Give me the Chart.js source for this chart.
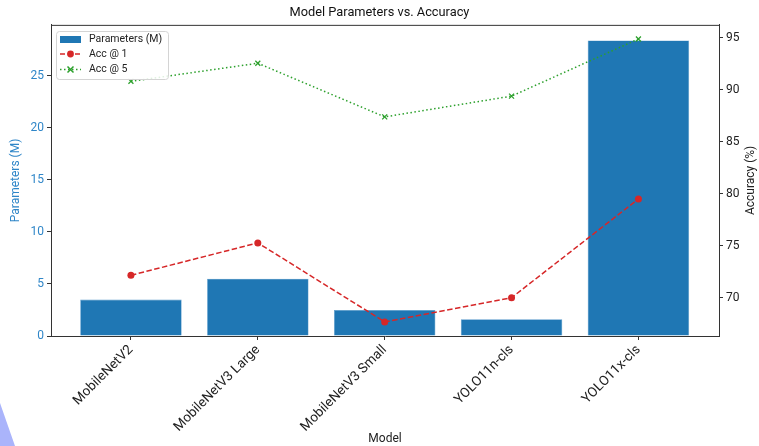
<!DOCTYPE html>
<html>
<head>
<meta charset="utf-8">
<script src="https://cdn.jsdelivr.net/npm/chart.js@4"></script>
<style>
html, body { margin: 0; padding: 0; background: #fff; }
#wrap { position: relative; width: 759px; height: 446px; overflow: hidden; }
#corner { position: absolute; left: 0; top: 0; width: 759px; height: 446px; background: #aab4fb;
  clip-path: polygon(0 403px, 15px 446px, 0 446px); }
canvas { position: absolute; left: 0; top: 0; }
</style>
</head>
<body>
<div id="wrap">
  <div id="corner"></div>
  <canvas id="modelChart" width="759" height="446"></canvas>
</div>
<script>
const models = ["MobileNetV2", "MobileNetV3 Large", "MobileNetV3 Small", "YOLO11n-cls", "YOLO11x-cls"]
const params = [3.5, 5.5, 2.5, 1.6, 28.4]
const acc1 = [72.154, 75.274, 67.668, 70.0, 79.5]
const acc5 = [90.822, 92.566, 87.402, 89.4, 94.9]
const paramTicks = [0, 5, 10, 15, 20, 25]
const accTicks = [70, 75, 80, 85, 90, 95]

const FONT = 'Roboto, "DejaVu Sans", sans-serif'
const BLUE = '#1f77b4'
const RED = '#d62728'
const GREEN = '#2ca02c'

// top spine, in-plot legend, right axis label (matplotlib style)
const extras = {
  id: 'extras',
  afterDraw(chart) {
    const ctx = chart.ctx
    const a = chart.chartArea
    ctx.save()
    ctx.strokeStyle = '#333'
    ctx.lineWidth = 1
    ctx.beginPath()
    ctx.moveTo(a.left, a.top + 0.5)
    ctx.lineTo(a.right, a.top + 0.5)
    ctx.stroke()

    // legend box
    ctx.fillStyle = 'rgba(255,255,255,0.85)'
    ctx.strokeStyle = '#d4d4d4'
    ctx.beginPath()
    ctx.roundRect(56.5, 31.5, 112, 48, 3)
    ctx.fill()
    ctx.stroke()

    ctx.fillStyle = BLUE
    ctx.fillRect(60, 36, 21, 7)

    ctx.strokeStyle = RED
    ctx.lineWidth = 1.5
    ctx.setLineDash([5, 2.5])
    ctx.beginPath(); ctx.moveTo(60, 54); ctx.lineTo(81, 54); ctx.stroke()
    ctx.setLineDash([])
    ctx.fillStyle = RED
    ctx.beginPath(); ctx.arc(70.5, 54, 3.4, 0, Math.PI * 2); ctx.fill()

    ctx.strokeStyle = GREEN
    ctx.setLineDash([1.5, 2.5])
    ctx.beginPath(); ctx.moveTo(60, 69.5); ctx.lineTo(81, 69.5); ctx.stroke()
    ctx.setLineDash([])
    ctx.beginPath()
    ctx.moveTo(67.5, 66.5); ctx.lineTo(73.5, 72.5)
    ctx.moveTo(73.5, 66.5); ctx.lineTo(67.5, 72.5)
    ctx.stroke()

    ctx.fillStyle = '#222'
    ctx.font = '10.5px ' + FONT
    ctx.textBaseline = 'middle'
    ctx.textAlign = 'left'
    ctx.fillText('Parameters (M)', 89, 39.5)
    ctx.fillText('Acc @ 1', 89, 54)
    ctx.fillText('Acc @ 5', 89, 69.5)

    // right axis title, reading bottom to top
    ctx.translate(751, (a.top + a.bottom) / 2)
    ctx.rotate(-Math.PI / 2)
    ctx.textAlign = 'center'
    ctx.font = '12px ' + FONT
    ctx.fillText('Accuracy (%)', 0, 0)
    ctx.restore()
  }
}

let modelChart = document.getElementById('modelChart').getContext('2d')
let chart = new Chart(modelChart, {
  type: 'bar',
  data: {
    datasets: [{
      type: 'line',
      label: 'Acc @ 1',
      data: acc1.map((v, i) => ({x: i, y: v})),
      yAxisID: 'y1',
      borderColor: RED,
      borderWidth: 1.5,
      borderDash: [5.5, 2.5],
      pointStyle: 'circle',
      pointRadius: 3.5,
      pointBackgroundColor: RED,
      pointBorderWidth: 0,
      tension: 0,
      order: 1
    }, {
      type: 'line',
      label: 'Acc @ 5',
      data: acc5.map((v, i) => ({x: i, y: v})),
      yAxisID: 'y1',
      borderColor: GREEN,
      borderWidth: 1.5,
      borderDash: [1.5, 2.5],
      pointStyle: 'crossRot',
      pointRadius: 3.5,
      pointBorderColor: GREEN,
      pointBorderWidth: 1.3,
      tension: 0,
      order: 2
    }, {
      type: 'bar',
      label: 'Parameters (M)',
      data: params.map((v, i) => ({x: i, y: v})),
      yAxisID: 'y',
      backgroundColor: BLUE,
      borderColor: '#5b9bcc',
      borderWidth: 0.6,
      barPercentage: 0.8,
      categoryPercentage: 1,
      order: 3
    }]
  },
  options: {
    responsive: false,
    animation: false,
    layout: {padding: 0},
    plugins: {
      legend: {display: false},
      tooltip: {enabled: false},
      title: {
        display: true,
        text: 'Model Parameters vs. Accuracy',
        color: '#111',
        font: {family: FONT, size: 12.8, weight: 'normal'},
        padding: {top: 5.5, bottom: 4}
      }
    },
    scales: {
      x: {
        type: 'linear',
        min: -0.63,
        max: 4.635,
        offset: false,
        grid: {drawOnChartArea: false, drawTicks: true, tickLength: 4, color: '#333', offset: false},
        border: {color: '#333'},
        afterBuildTicks: s => { s.ticks = models.map((m, i) => ({value: i})) },
        afterFit: s => { s.height = 110 },
        ticks: {
          autoSkip: false,
          minRotation: 45,
          maxRotation: 45,
          padding: 2,
          color: '#222',
          font: {family: FONT, size: 13.5},
          callback: v => models[v]
        },
        title: {display: true, text: 'Model', color: '#222', font: {family: FONT, size: 12}, padding: {top: 1, bottom: 0}}
      },
      y: {
        position: 'left',
        min: 0,
        max: 29.9,
        grid: {drawOnChartArea: false, tickLength: 4, color: '#333'},
        border: {color: '#333'},
        afterBuildTicks: s => { s.ticks = paramTicks.map(v => ({value: v})) },
        afterFit: s => { s.width = 51 },
        ticks: {color: '#2f86c8', padding: 3, font: {family: FONT, size: 12}},
        title: {display: true, text: 'Parameters (M)', color: '#2f86c8', font: {family: FONT, size: 12}, padding: {top: 9, bottom: 0}}
      },
      y1: {
        position: 'right',
        min: 66.31,
        max: 96.26,
        grid: {drawOnChartArea: false, tickLength: 4, color: '#333'},
        border: {color: '#333'},
        afterBuildTicks: s => { s.ticks = accTicks.map(v => ({value: v})) },
        afterFit: s => { s.width = 40 },
        ticks: {color: '#222', padding: 3, font: {family: FONT, size: 12}}
      }
    }
  },
  plugins: [extras]
})
</script>
</body>
</html>
